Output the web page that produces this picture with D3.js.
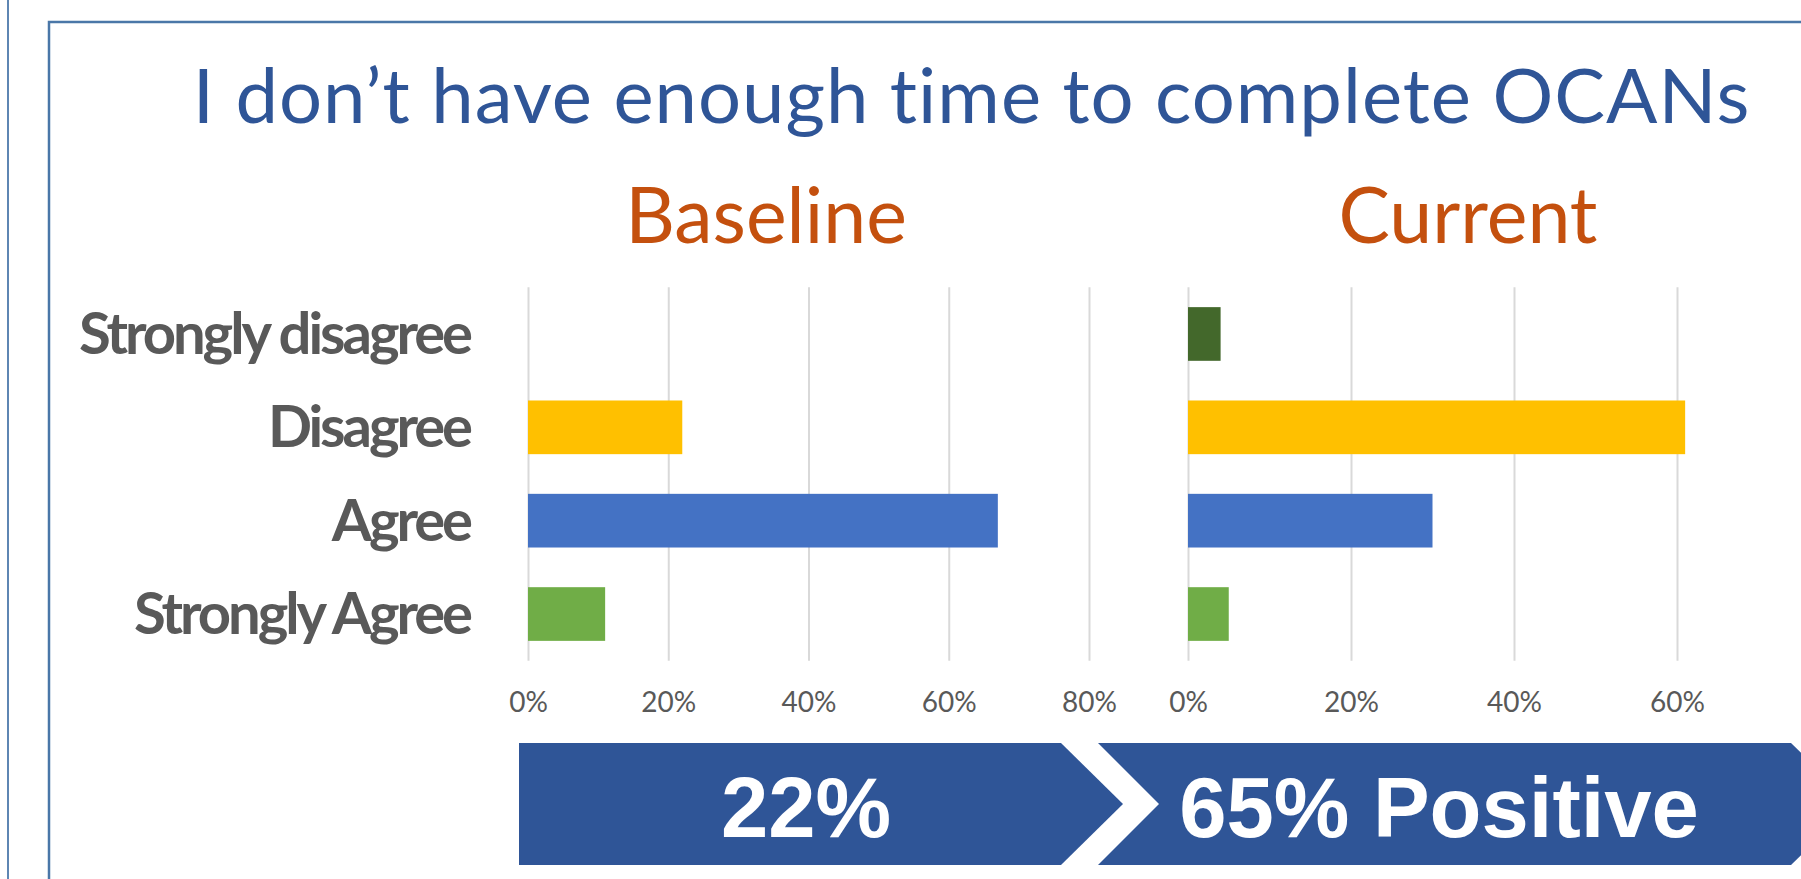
<!DOCTYPE html>
<html>
<head>
<meta charset="utf-8">
<script src="https://cdn.jsdelivr.net/npm/d3@7/dist/d3.min.js"></script>
<style>
  html, body { margin: 0; padding: 0; background: #ffffff; }
  svg { display: block; }
</style>
</head>
<body>
<svg id="chart" width="1801" height="879"></svg>
<script>
// ---------------- Data ----------------
const titleText = "I don’t have enough time to complete OCANs";
const panelTitles = ["Baseline", "Current"];
const categories = ["Strongly disagree", "Disagree", "Agree", "Strongly Agree"];
const baselineValues = [0, 22, 67, 11];   // percent
const currentValues = [4, 61, 30, 5];     // percent
const barColors = ["#43682B", "#FFC000", "#4472C4", "#70AD47"];
const baselineTicks = [0, 20, 40, 60, 80];
const currentTicks = [0, 20, 40, 60];
const positiveCategories = ["Strongly disagree", "Disagree"];
const bannerSuffixes = ["", " Positive"];

// ---------------- Setup ----------------
const svg = d3.select("#chart");
const W = 1801, H = 879;

// frame lines
svg.append("line").attr("x1", 8).attr("x2", 8).attr("y1", 0).attr("y2", H)
  .attr("stroke", "#5E86B3").attr("stroke-width", 2);
svg.append("path").attr("d", `M49,${H} L49,22 L${W},22`)
  .attr("fill", "none").attr("stroke", "#4A77A8").attr("stroke-width", 2.5);

function fitWidth(sel, target) {
  const node = sel.node();
  const n = sel.text().length;
  const w = node.getComputedTextLength();
  const ls = (target - w) / n;
  sel.style("letter-spacing", ls + "px");
  return ls;
}

// title
const title = svg.append("text")
  .attr("x", 972).attr("y", 123)
  .attr("text-anchor", "middle")
  .style("font-family", "Lato, 'Open Sans', sans-serif")
  .style("font-size", "76px")
  .style("fill", "#2F5597")
  .text(titleText);
{
  const ls = fitWidth(title, 1559);
  title.attr("x", 972 - ls / 2);
}

// ---------------- Scales ----------------
const yBand = d3.scaleBand().domain(categories).range([287.3, 660.7])
  .paddingInner(0.425).paddingOuter(0.2125);

const panels = [
  { name: panelTitles[0], values: baselineValues, ticks: baselineTicks,
    x: d3.scaleLinear().domain([0, 80]).range([528, 1089]), titleX: 766 },
  { name: panelTitles[1], values: currentValues, ticks: currentTicks,
    x: d3.scaleLinear().domain([0, 70]).range([1188, 1188 + 163 * 3.5]), titleX: 1468 }
];

panels.forEach(p => {
  const g = svg.append("g");
  // panel title
  g.append("text")
    .attr("x", p.titleX).attr("y", 243)
    .attr("text-anchor", "middle")
    .style("font-family", "Lato, 'Open Sans', sans-serif")
    .style("font-size", "77px")
    .style("fill", "#C4500E")
    .text(p.name);

  // axis with gridlines
  const axis = d3.axisBottom(p.x)
    .tickValues(p.ticks)
    .tickFormat(d => d + "%")
    .tickSize(-(660.7 - 287.3))
    .tickSizeOuter(0);
  const ag = g.append("g").attr("transform", `translate(0,${660.7})`).call(axis);
  ag.select(".domain").remove();
  ag.selectAll(".tick line").attr("stroke", "#D9D9D9").attr("stroke-width", 2);
  ag.selectAll(".tick text")
    .attr("y", 51.3).attr("dy", 0)
    .style("font-family", "Lato, 'Open Sans', sans-serif")
    .style("font-size", "28px")
    .style("fill", "#595959");

  // bars
  g.selectAll("rect.bar")
    .data(categories.map((c, i) => ({ c, v: p.values[i], color: barColors[i] })))
    .join("rect")
    .attr("class", "bar")
    .attr("x", p.x(0))
    .attr("y", d => yBand(d.c))
    .attr("width", d => p.x(d.v) - p.x(0))
    .attr("height", yBand.bandwidth())
    .attr("fill", d => d.color);
});

// category labels
const labels = svg.append("g").selectAll("text")
  .data(categories)
  .join("text")
  .attr("x", 470)
  .attr("y", d => yBand(d) + yBand.bandwidth() / 2 + 20)
  .attr("text-anchor", "end")
  .style("font-family", "Lato, 'Open Sans', sans-serif")
  .style("font-weight", "700")
  .style("font-size", "58px")
  .style("fill", "#595959")
  .text(d => d);
{
  const first = labels.filter((d, i) => i === 0);
  const ls = fitWidth(first, 391);
  labels.style("letter-spacing", ls + "px");
}

// ---------------- Banners ----------------
const positives = [baselineValues, currentValues].map(vals =>
  d3.sum(categories.map((c, i) => positiveCategories.includes(c) ? vals[i] : 0)));

const banners = [
  { d: "M519,743 L1061,743 L1123,804 L1061,865 L519,865 Z", tx: 806 },
  { d: "M1098,743 L1791,743 L1853,804 L1791,865 L1098,865 L1159,804 Z", tx: 1439 }
];
banners.forEach((b, i) => {
  svg.append("path").attr("d", b.d).attr("fill", "#2F5597");
  svg.append("text")
    .attr("x", b.tx).attr("y", 837)
    .attr("text-anchor", "middle")
    .style("font-family", "'Liberation Sans', Arial, sans-serif")
    .style("font-weight", "700")
    .style("font-size", "85px")
    .style("fill", "#ffffff")
    .text(positives[i] + "%" + bannerSuffixes[i]);
});
</script>
</body>
</html>
